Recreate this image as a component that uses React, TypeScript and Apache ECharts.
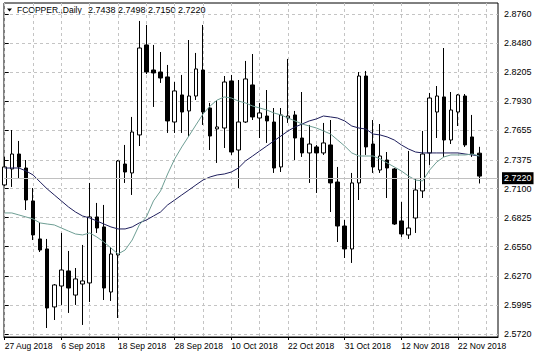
import React, { useEffect, useRef } from "react";
import * as echarts from "echarts";

const symbolName = "FCOPPER.,Daily";

const dates = [
  "27 Aug 2018", "28 Aug 2018", "29 Aug 2018", "30 Aug 2018", "31 Aug 2018", "3 Sep 2018", "4 Sep 2018", "5 Sep 2018",
  "6 Sep 2018", "7 Sep 2018", "10 Sep 2018", "11 Sep 2018", "12 Sep 2018", "13 Sep 2018", "14 Sep 2018", "17 Sep 2018",
  "18 Sep 2018", "19 Sep 2018", "20 Sep 2018", "21 Sep 2018", "24 Sep 2018", "25 Sep 2018", "26 Sep 2018", "27 Sep 2018",
  "28 Sep 2018", "1 Oct 2018", "2 Oct 2018", "3 Oct 2018", "4 Oct 2018", "5 Oct 2018", "8 Oct 2018", "9 Oct 2018",
  "10 Oct 2018", "11 Oct 2018", "12 Oct 2018", "15 Oct 2018", "16 Oct 2018", "17 Oct 2018", "18 Oct 2018", "19 Oct 2018",
  "22 Oct 2018", "23 Oct 2018", "24 Oct 2018", "25 Oct 2018", "26 Oct 2018", "28 Oct 2018", "29 Oct 2018", "30 Oct 2018",
  "31 Oct 2018", "1 Nov 2018", "2 Nov 2018", "5 Nov 2018", "6 Nov 2018", "7 Nov 2018", "8 Nov 2018", "9 Nov 2018",
  "12 Nov 2018", "13 Nov 2018", "14 Nov 2018", "15 Nov 2018", "16 Nov 2018", "19 Nov 2018", "20 Nov 2018", "21 Nov 2018",
  "22 Nov 2018", "23 Nov 2018", "26 Nov 2018", "27 Nov 2018",
];

const openPrices = [
  2.7136, 2.7288, 2.7430, 2.7297, 2.6984, 2.6623, 2.6528, 2.5977,
  2.6176, 2.6319, 2.6090, 2.6195, 2.6205, 2.6832, 2.6737, 2.6119,
  2.6471, 2.7335, 2.7250, 2.7611, 2.8466, 2.8228, 2.8209, 2.8162,
  2.7734, 2.7991, 2.7839, 2.7981, 2.8228, 2.7867, 2.7668, 2.7677,
  2.8124, 2.7468, 2.7734, 2.8086, 2.7772, 2.7791, 2.7734, 2.7307,
  2.7772, 2.7801, 2.7582, 2.7440, 2.7497, 2.7440, 2.7516, 2.7164,
  2.6746, 2.6528, 2.7155, 2.8171, 2.7525, 2.7278, 2.7373, 2.7288,
  2.6794, 2.6661, 2.6822, 2.7079, 2.7440, 2.7829, 2.7972, 2.7563,
  2.7829, 2.7981, 2.7592, 2.7438,
];

const closePrices = [
  2.7307, 2.7430, 2.7307, 2.6993, 2.6661, 2.6518, 2.5967, 2.6186,
  2.6328, 2.6157, 2.6243, 2.6224, 2.6832, 2.6727, 2.6157, 2.6480,
  2.7364, 2.7259, 2.7639, 2.8437, 2.8209, 2.8200, 2.8152, 2.7744,
  2.8029, 2.7829, 2.7981, 2.8238, 2.7829, 2.7601, 2.7687, 2.8114,
  2.7449, 2.7734, 2.8143, 2.7782, 2.7820, 2.7744, 2.7297, 2.7801,
  2.7791, 2.7582, 2.7440, 2.7525, 2.7440, 2.7535, 2.7155, 2.6746,
  2.6528, 2.7155, 2.8171, 2.7497, 2.7307, 2.7411, 2.7297, 2.6765,
  2.6670, 2.6727, 2.7088, 2.7430, 2.7962, 2.7981, 2.7563, 2.7848,
  2.7991, 2.7516, 2.7430, 2.7220,
];

const lowPrices = [
  2.7126, 2.7117, 2.7202, 2.6898, 2.6613, 2.6499, 2.5777, 2.5853,
  2.5996, 2.5920, 2.5996, 2.5806, 2.6024, 2.6680, 2.6043, 2.6034,
  2.5872, 2.7155, 2.7041, 2.7506, 2.8190, 2.7877, 2.8105, 2.7630,
  2.7630, 2.7630, 2.7592, 2.7943, 2.7706, 2.7468, 2.7345, 2.7487,
  2.7421, 2.7107, 2.7725, 2.7753, 2.7582, 2.7535, 2.7250, 2.7259,
  2.7725, 2.7373, 2.7402, 2.7155, 2.7060, 2.7421, 2.6879, 2.6594,
  2.6442, 2.6395, 2.6993, 2.7421, 2.7250, 2.7250, 2.7012, 2.6756,
  2.6642, 2.6623, 2.6680, 2.7012, 2.7326, 2.7582, 2.7402, 2.7525,
  2.7696, 2.7497, 2.7402, 2.7150,
];

const highPrices = [
  2.7402, 2.7658, 2.7554, 2.7373, 2.7107, 2.6775, 2.6623, 2.6195,
  2.6680, 2.6509, 2.6347, 2.6566, 2.7155, 2.6965, 2.6946, 2.6547,
  2.7373, 2.7516, 2.7782, 2.8694, 2.8656, 2.8466, 2.8399, 2.8276,
  2.8114, 2.8181, 2.8513, 2.8390, 2.8656, 2.7915, 2.7943, 2.8171,
  2.8181, 2.8133, 2.8314, 2.8380, 2.7915, 2.8038, 2.7867, 2.7867,
  2.8333, 2.7839, 2.8019, 2.7706, 2.7516, 2.7725, 2.7753, 2.7307,
  2.6803, 2.7250, 2.8209, 2.8219, 2.7753, 2.7715, 2.7449, 2.7297,
  2.6974, 2.7459, 2.7202, 2.7649, 2.8010, 2.8076, 2.8437, 2.8019,
  2.8000, 2.8000, 2.7801, 2.7498,
];

// slow moving average (dark navy line)
const maSlow = [
  2.7297, 2.7297, 2.7297, 2.7269, 2.7231, 2.7164, 2.7098, 2.7041,
  2.6984, 2.6927, 2.6879, 2.6841, 2.6822, 2.6794, 2.6765, 2.6737,
  2.6718, 2.6718, 2.6737, 2.6775, 2.6803, 2.6841, 2.6879, 2.6946,
  2.6993, 2.7041, 2.7088, 2.7136, 2.7183, 2.7212, 2.7231, 2.7240,
  2.7259, 2.7297, 2.7364, 2.7411, 2.7459, 2.7506, 2.7554, 2.7601,
  2.7649, 2.7687, 2.7715, 2.7744, 2.7763, 2.7791, 2.7782, 2.7772,
  2.7744, 2.7696, 2.7677, 2.7667, 2.7620, 2.7611, 2.7592, 2.7563,
  2.7516, 2.7478, 2.7449, 2.7440, 2.7440, 2.7440, 2.7440, 2.7440,
  2.7440, 2.7430, 2.7421, 2.7411,
];

// fast moving average (teal line)
const maFast = [
  2.6870, 2.6870, 2.6851, 2.6832, 2.6813, 2.6775, 2.6765, 2.6756,
  2.6727, 2.6698, 2.6670, 2.6661, 2.6680, 2.6642, 2.6594, 2.6537,
  2.6480, 2.6518, 2.6613, 2.6756, 2.6832, 2.6984, 2.7079, 2.7240,
  2.7383, 2.7497, 2.7601, 2.7706, 2.7810, 2.7886, 2.7943, 2.7972,
  2.7962, 2.7933, 2.7915, 2.7886, 2.7867, 2.7848, 2.7820, 2.7801,
  2.7772, 2.7744, 2.7715, 2.7696, 2.7677, 2.7649, 2.7620, 2.7563,
  2.7506, 2.7440, 2.7411, 2.7411, 2.7411, 2.7383, 2.7345, 2.7307,
  2.7269, 2.7221, 2.7183, 2.7174, 2.7278, 2.7354, 2.7402, 2.7421,
  2.7421, 2.7421, 2.7430, 2.7411,
];

const priceTicks = [2.5720, 2.5995, 2.6270, 2.6550, 2.6825, 2.7100, 2.7375, 2.7655, 2.7930, 2.8205, 2.8480, 2.8760];
const dateLabelBars = [0, 8, 16, 24, 32, 40, 48, 56, 64];
const gridBars = [0, 4, 8, 12, 16, 20, 24, 28, 32, 36, 40, 44, 48, 52, 56, 60, 64, 68];

const FONT = "'Liberation Sans', Arial, sans-serif";

export default function App() {
  const ref = useRef<HTMLDivElement>(null);

  useEffect(() => {
    const chart = echarts.init(ref.current!, null, { renderer: "svg" });
    const last = dates.length - 1;
    const candles = dates.map((_, i) => [i, openPrices[i], closePrices[i], lowPrices[i], highPrices[i]]);
    const quote = [openPrices[last], highPrices[last], lowPrices[last], closePrices[last]]
      .map((v) => v.toFixed(4))
      .join(" ");
    const xMin = -0.1;
    const xMax = 69.645;

    chart.setOption({
      animation: false,
      backgroundColor: "#ffffff",
      textStyle: { fontFamily: FONT },
      grid: {
        left: 4,
        right: 38,
        top: 3,
        bottom: 21,
        show: true,
        borderColor: "#000000",
        borderWidth: 1,
        backgroundColor: "transparent",
        containLabel: false,
        outerBoundsMode: "none",
      },
      xAxis: [
        {
          type: "value",
          min: xMin,
          max: xMax,
          position: "bottom",
          axisLine: { show: true, lineStyle: { color: "#000000", width: 1 } },
          axisTick: { show: true, length: 3, customValues: dateLabelBars, lineStyle: { color: "#000000" } },
          axisLabel: {
            customValues: dateLabelBars,
            formatter: (v: number) => dates[Math.round(v)],
            align: "left",
            margin: 4,
            fontSize: 8.5,
            color: "#000000",
            fontFamily: FONT,
          },
          splitLine: { show: false },
        },
        {
          type: "value",
          min: xMin,
          max: xMax,
          position: "bottom",
          axisLine: { show: false },
          axisTick: { show: false, customValues: gridBars },
          axisLabel: { show: false },
          splitLine: { show: true, lineStyle: { color: "#c4c4c4", type: [3, 3], width: 1 } },
        },
      ],
      yAxis: {
        type: "value",
        position: "right",
        min: 2.56915,
        max: 2.88645,
        axisLine: { show: false },
        axisTick: { show: true, length: 4, customValues: priceTicks, lineStyle: { color: "#000000" } },
        axisLabel: {
          customValues: priceTicks,
          formatter: (v: number) => v.toFixed(4),
          margin: 6,
          fontSize: 9,
          color: "#000000",
          fontFamily: FONT,
        },
        splitLine: { show: true, lineStyle: { color: "#c4c4c4", type: [3, 3], width: 1 } },
      },
      series: [
        {
          type: "candlestick",
          xAxisIndex: 0,
          yAxisIndex: 0,
          data: candles,
          encode: { x: 0, y: [1, 2, 3, 4] },
          barWidth: 4,
          itemStyle: {
            color: "#ffffff",
            color0: "#000000",
            borderColor: "#000000",
            borderColor0: "#000000",
            borderWidth: 1,
          },
          z: 2,
          markLine: {
            silent: true,
            symbol: "none",
            animation: false,
            lineStyle: { color: "#c0c0c0", type: "solid", width: 1 },
            label: {
              show: true,
              position: "end",
              formatter: closePrices[last].toFixed(4),
              backgroundColor: "#000000",
              color: "#ffffff",
              padding: [2, 2, 1, 2],
              fontSize: 9,
              fontFamily: FONT,
              distance: 4,
            },
            data: [{ yAxis: closePrices[last] }],
          },
        },
        {
          type: "line",
          xAxisIndex: 0,
          data: maSlow.map((v, i) => [i, v]),
          symbol: "none",
          lineStyle: { color: "#1e1e5c", width: 1 },
          z: 3,
        },
        {
          type: "line",
          xAxisIndex: 0,
          data: maFast.map((v, i) => [i, v]),
          symbol: "none",
          lineStyle: { color: "#6e9e94", width: 1 },
          z: 3,
        },
      ],
      graphic: [
        {
          type: "polygon",
          shape: { points: [[7, 8.5], [12, 8.5], [9.5, 11.5]] },
          style: { fill: "#000000" },
        },
        {
          type: "text",
          x: 17,
          y: 10,
          style: { text: symbolName, fontSize: 8.5, fill: "#000000", verticalAlign: "middle", fontFamily: FONT },
        },
        {
          type: "text",
          x: 88,
          y: 10,
          style: { text: quote, fontSize: 9, fill: "#000000", verticalAlign: "middle", fontFamily: FONT },
        },
      ],
    });

    return () => chart.dispose();
  }, []);

  return (
    <div
      ref={ref}
      style={{ position: "fixed", left: 0, top: 0, width: 536, height: 358, background: "#ffffff" }}
    />
  );
}
